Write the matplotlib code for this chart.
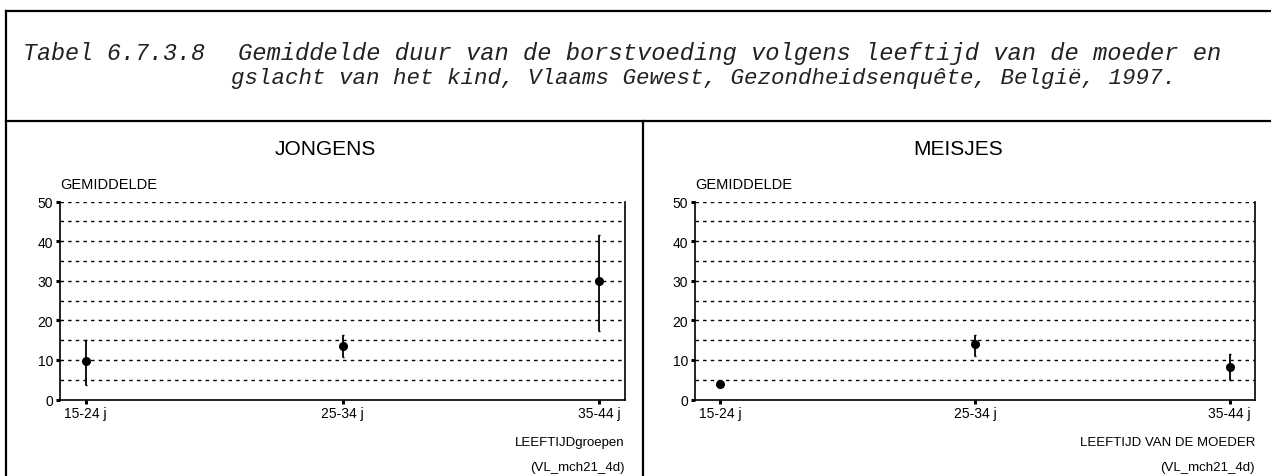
import matplotlib
matplotlib.use("Agg")
import matplotlib.pyplot as plt
from matplotlib.lines import Line2D

# ---- data ----
categories = ["15-24 j", "25-34 j", "35-44 j"]
jongens_mean = [9.7, 13.6, 29.9]
jongens_low = [3.7, 10.8, 17.3]
jongens_high = [15.0, 16.3, 41.5]
meisjes_mean = [3.8, 13.9, 8.3]
meisjes_low = [3.3, 10.9, 4.9]
meisjes_high = [4.3, 16.2, 11.6]
y_ticks = [0, 10, 20, 30, 40, 50]
grid_levels = [5, 10, 15, 20, 25, 30, 35, 40, 45, 50]

title_num = "Tabel 6.7.3.8"
title_l1 = "Gemiddelde duur van de borstvoeding volgens leeftijd van de moeder en"
title_l2 = "gslacht van het kind, Vlaams Gewest, Gezondheidsenquête, België, 1997."

W, H = 1271, 477
fig = plt.figure(figsize=(W / 100, H / 100), dpi=100)
fig.patch.set_facecolor("white")

def fx(x):
    return x / W

def fy(y):
    return 1 - y / H

# frame lines
lw_frame = 1.6
for (x0, y0, x1, y1) in [(6, 12, W, 12), (6, 122, W, 122), (6, 12, 6, H), (643, 122, 643, H)]:
    fig.add_artist(Line2D([fx(x0), fx(x1)], [fy(y0), fy(y1)], color="black", lw=lw_frame,
                          transform=fig.transFigure))

mono = dict(family="Liberation Mono", style="italic", color="#222222")
fig.text(fx(23), fy(60), title_num, va="baseline", ha="left", fontsize=16.8, **mono)
fig.text(fx(238), fy(60), title_l1, va="baseline", ha="left", fontsize=17.1, **mono)
fig.text(fx(231), fy(84), title_l2, va="baseline", ha="left", fontsize=16.2, **mono)

sans = "Liberation Sans"

def panel(x0, x1, cx, title, xlabel, means, lows, highs):
    y0, y1 = 202.5, 400.5
    ax = fig.add_axes([fx(x0), fy(y1), fx(x1) - fx(x0), fy(y0) - fy(y1)])
    xs = list(range(len(categories)))
    for v in grid_levels:
        ax.axhline(v, ls=(0, (2.5, 3.0)), color="black", lw=1.0, zorder=0)
    yerr = [[m - l for m, l in zip(means, lows)], [h - m for m, h in zip(means, highs)]]
    ax.errorbar(xs, means, yerr=yerr, fmt="o", color="black", ms=5.5, elinewidth=1.3,
                capsize=1.0, capthick=1.0, zorder=3)
    ax.set_xlim(-0.1, 2.1)
    ax.set_ylim(0, 50)
    ax.set_xticks(xs)
    ax.set_xticklabels(categories, fontfamily=sans, fontsize=10)
    ax.set_yticks(y_ticks)
    ax.set_yticklabels([str(v) for v in y_ticks], fontfamily=sans, fontsize=10)
    ax.tick_params(direction="out", length=3, width=2.2, pad=2)
    for s in ["left", "bottom", "right"]:
        ax.spines[s].set_linewidth(1.2)
    ax.spines["top"].set_visible(False)
    fig.text(fx(cx), fy(150), title, ha="center", va="center", fontfamily=sans, fontsize=15)
    fig.text(fx(x0), fy(185), "GEMIDDELDE", ha="left", va="center", fontfamily=sans, fontsize=10.5)
    fig.text(fx(x1), fy(443), xlabel, ha="right", va="center", fontfamily=sans, fontsize=9.5)
    fig.text(fx(x1), fy(468), "(VL_mch21_4d)", ha="right", va="center", fontfamily=sans, fontsize=9.5)
    return ax

panel(60, 625, 325, "JONGENS", "LEEFTIJDgroepen", jongens_mean, jongens_low, jongens_high)
panel(695, 1255, 958, "MEISJES", "LEEFTIJD VAN DE MOEDER", meisjes_mean, meisjes_low, meisjes_high)

fig.savefig("out.png", dpi=100)
